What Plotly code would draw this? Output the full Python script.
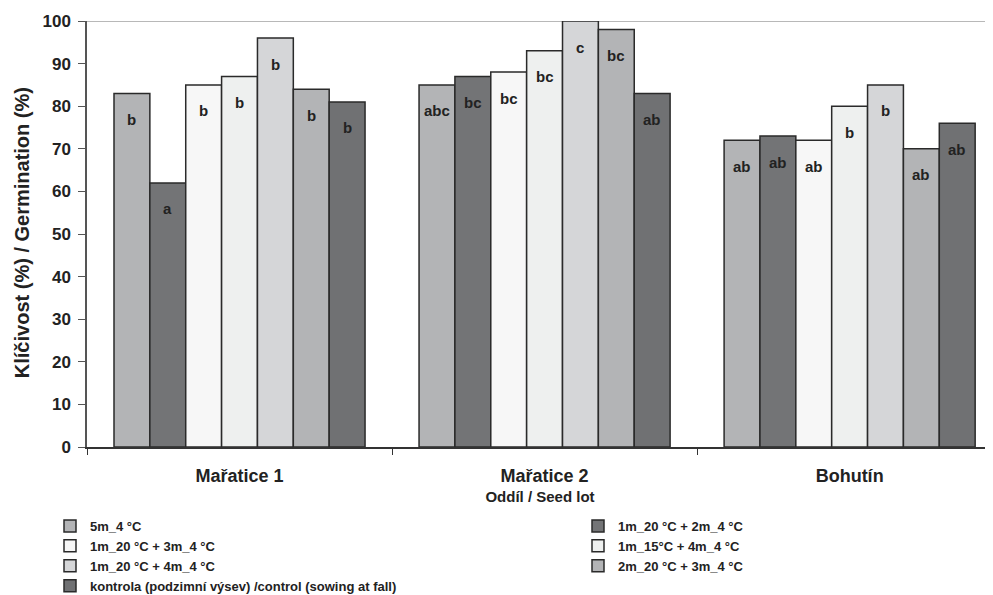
import plotly.graph_objects as go

categories = ["Mařatice 1", "Mařatice 2", "Bohutín"]
series_names = [
    "5m_4 °C",
    "1m_20 °C + 2m_4 °C",
    "1m_20 °C + 3m_4 °C",
    "1m_15°C + 4m_4 °C",
    "1m_20 °C + 4m_4 °C",
    "2m_20 °C + 3m_4 °C",
    "kontrola (podzimní výsev) /control (sowing at fall)",
]
values = [
    [83, 85, 72],
    [62, 87, 73],
    [85, 88, 72],
    [87, 93, 80],
    [96, 100, 85],
    [84, 98, 70],
    [81, 83, 76],
]
letters = [
    ["b", "abc", "ab"],
    ["a", "bc", "ab"],
    ["b", "bc", "ab"],
    ["b", "bc", "b"],
    ["b", "c", "b"],
    ["b", "bc", "ab"],
    ["b", "ab", "ab"],
]
colors = ["#b3b4b6", "#737476", "#f7f7f7", "#eef0ef", "#d5d6d8", "#b3b4b6", "#707173"]
legend_column = ["legend", "legend2", "legend", "legend2", "legend", "legend2", "legend"]
y_title = "Klíčivost (%) / Germination (%)"
x_title = "Oddíl / Seed lot"

FONT = "Liberation Sans, Arial, sans-serif"
TXT = "#222222"
BARGAP = 0.177
n = len(series_names)

fig = go.Figure()
for name, vals, col, leg in zip(series_names, values, colors, legend_column):
    fig.add_trace(go.Bar(
        name=name, x=categories, y=vals, legend=leg,
        marker=dict(color=col, line=dict(color="#2a2a2a", width=1.5)),
    ))

# significance letters placed on each bar via the axis scale
w = (1 - BARGAP) / n
for i, (vals, labs) in enumerate(zip(values, letters)):
    for c, (v, lab) in enumerate(zip(vals, labs)):
        fig.add_annotation(
            x=c - (1 - BARGAP) / 2 + (i + 0.5) * w, y=v, xref="x", yref="y",
            text=f"<b>{lab}</b>", showarrow=False, yanchor="middle", yshift=-26,
            font=dict(family=FONT, size=15, color=TXT),
        )

# y-axis title
fig.add_annotation(
    x=-0.0717, y=0.502, xref="paper", yref="paper", text=f"<b>{y_title}</b>",
    textangle=-90, showarrow=False, xanchor="center", yanchor="middle",
    font=dict(family=FONT, size=20, color=TXT),
)

fig.add_shape(type="line", xref="paper", yref="y", x0=0, x1=1, y0=100, y1=100,
              line=dict(color="#b8b8b8", width=2), layer="below")

legend_common = dict(
    orientation="v", xref="container", yref="container", yanchor="top", xanchor="left",
    font=dict(size=13, family=FONT, color=TXT, weight="bold"),
    traceorder="normal", itemclick=False, itemdoubleclick=False,
    bgcolor="rgba(0,0,0,0)",
)

fig.update_layout(
    width=993, height=595,
    margin=dict(l=79, r=8, t=13, b=156, autoexpand=False),
    paper_bgcolor="white", plot_bgcolor="white",
    barmode="group", bargap=BARGAP, bargroupgap=0,
    font=dict(family=FONT, color=TXT),
    xaxis=dict(
        range=[-0.5, 2.47], showline=True, linecolor="#333333", linewidth=1.5,
        ticks="outside", tickson="boundaries", ticklen=6, tickcolor="#333333",
        tickfont=dict(size=18, family=FONT, color=TXT, weight="bold"),
        ticklabelstandoff=12,
        title=dict(text=f"<b>{x_title}</b>", font=dict(size=15), standoff=6),
        showgrid=False, automargin=False,
    ),
    yaxis=dict(
        range=[0, 100], dtick=10, showline=True, linecolor="#555555", linewidth=1.5,
        ticks="outside", ticklen=7, tickcolor="#555555", showgrid=False,
        tickfont=dict(size=17, family=FONT, color=TXT, weight="bold"),
        ticklabelstandoff=4,
        zeroline=False, automargin=False,
    ),
    legend=dict(x=42 / 993, y=1 - 503 / 595, **legend_common),
    legend2=dict(x=570 / 993, y=1 - 503 / 595, **legend_common),
    showlegend=True,
)
fig.write_html("out.html")
